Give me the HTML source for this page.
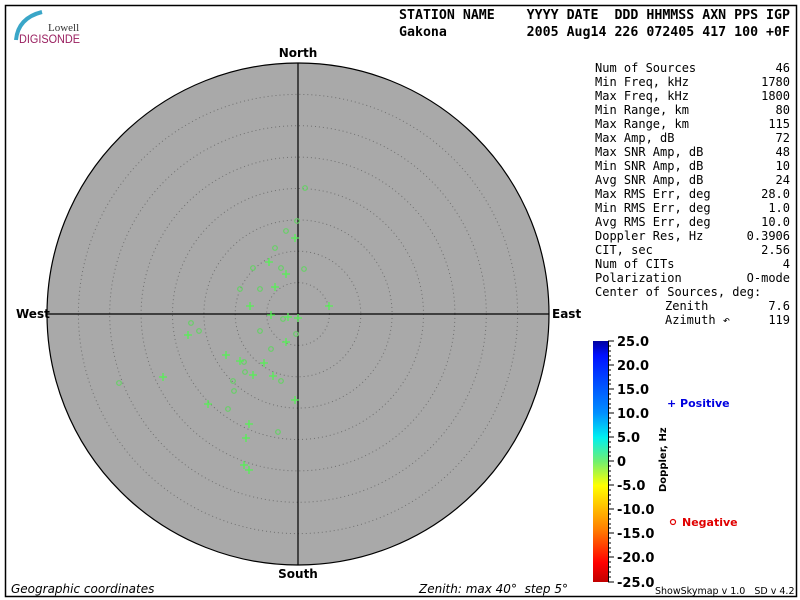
<!DOCTYPE html>
<html><head><meta charset="utf-8"><style>
html,body{margin:0;padding:0;background:#fff;width:800px;height:600px;overflow:hidden}
svg{display:block}
.m{font-family:"DejaVu Sans Mono","Liberation Mono",monospace;font-size:12px;fill:#000}
.h{font-family:"DejaVu Sans Mono","Liberation Mono",monospace;font-size:13px;font-weight:bold;fill:#000}
.b{font-family:"DejaVu Sans","Liberation Sans",sans-serif;font-size:12px;font-weight:bold;fill:#000}
.i{font-family:"DejaVu Sans","Liberation Sans",sans-serif;font-size:12px;font-style:italic;fill:#000}
.c circle{fill:none;stroke:#66d066;stroke-width:1.2}
</style></head><body>
<svg width="800" height="600" viewBox="0 0 800 600">
<defs><linearGradient id="g" x1="0" y1="0" x2="0" y2="1">
<stop offset="0" stop-color="#0000a0"/><stop offset="0.06" stop-color="#0010ff"/>
<stop offset="0.3" stop-color="#0090ff"/><stop offset="0.4" stop-color="#00f0f0"/>
<stop offset="0.5" stop-color="#70f070"/><stop offset="0.6" stop-color="#ffff00"/>
<stop offset="0.78" stop-color="#ff8000"/><stop offset="0.92" stop-color="#ff0000"/>
<stop offset="1" stop-color="#c00000"/></linearGradient></defs>
<rect x="5.5" y="5.5" width="791" height="591" fill="none" stroke="#000" stroke-width="1.5"/>
<path d="M16 40 Q18 18 42 12" fill="none" stroke="#3aa6c8" stroke-width="4"/>
<text x="48" y="31" font-family="Liberation Serif,serif" font-size="11" fill="#333">Lowell</text>
<text x="19" y="43" font-family="Liberation Sans,sans-serif" font-size="12" fill="#9a2060" textLength="61" lengthAdjust="spacingAndGlyphs">DIGISONDE</text>
<text x="399" y="19" class="h" xml:space="preserve" textLength="391" lengthAdjust="spacingAndGlyphs">STATION NAME    YYYY DATE  DDD HHMMSS AXN PPS IGP</text>
<text x="399" y="36" class="h" xml:space="preserve" textLength="391" lengthAdjust="spacingAndGlyphs">Gakona          2005 Aug14 226 072405 417 100 +0F</text>
<circle cx="298" cy="314" r="251" fill="#a9a9a9" stroke="#000" stroke-width="1.2"/>
<g fill="none" stroke="#707070" stroke-dasharray="1 3">
<circle cx="298" cy="314" r="31.4"/><circle cx="298" cy="314" r="62.8"/><circle cx="298" cy="314" r="94.1"/>
<circle cx="298" cy="314" r="125.5"/><circle cx="298" cy="314" r="156.9"/><circle cx="298" cy="314" r="188.3"/>
<circle cx="298" cy="314" r="219.6"/></g>
<line x1="298" y1="63" x2="298" y2="565" stroke="#000" stroke-width="1.2"/>
<line x1="47" y1="314" x2="549" y2="314" stroke="#000" stroke-width="1.2"/>
<text x="298" y="57" class="b" text-anchor="middle">North</text>
<text x="298" y="578" class="b" text-anchor="middle">South</text>
<text x="16" y="318" class="b">West</text>
<text x="552" y="318" class="b">East</text>
<g class="c">
<circle cx="305" cy="188" r="2.3"/><circle cx="297" cy="221" r="2.3"/><circle cx="286" cy="231" r="2.3"/><circle cx="275" cy="248" r="2.3"/><circle cx="253" cy="268" r="2.3"/><circle cx="281" cy="268" r="2.3"/><circle cx="304" cy="269" r="2.3"/><circle cx="240" cy="289" r="2.3"/><circle cx="260" cy="289" r="2.3"/><circle cx="283" cy="319" r="2.3"/><circle cx="191" cy="323" r="2.3"/><circle cx="199" cy="331" r="2.3"/><circle cx="260" cy="331" r="2.3"/><circle cx="296" cy="334" r="2.3"/><circle cx="271" cy="349" r="2.3"/><circle cx="244" cy="362" r="2.3"/><circle cx="245" cy="372" r="2.3"/><circle cx="281" cy="381" r="2.3"/><circle cx="233" cy="381" r="2.3"/><circle cx="234" cy="391" r="2.3"/><circle cx="119" cy="383" r="2.3"/><circle cx="228" cy="409" r="2.3"/><circle cx="278" cy="432" r="2.3"/>
</g>
<g stroke="#55f055" stroke-width="1.3" fill="none">
<path d="M291 238h8M295 234v8 M265 262h8M269 258v8 M282 274h8M286 270v8 M271 287h8M275 283v8 M246 306h8M250 302v8 M325 306h8M329 302v8 M267 315h8M271 311v8 M284 317h8M288 313v8 M294 318h8M298 314v8 M184 335h8M188 331v8 M282 342h8M286 338v8 M222 355h8M226 351v8 M236 361h8M240 357v8 M260 363h8M264 359v8 M249 375h8M253 371v8 M269 376h8M273 372v8 M159 377h8M163 373v8 M291 400h8M295 396v8 M204 404h8M208 400v8 M245 424h8M249 420v8 M242 438h8M246 434v8 M240 465h8M244 461v8 M245 470h8M249 466v8"/>
</g>
<text x="11" y="593" class="i">Geographic coordinates</text>
<text x="419" y="593" class="i" xml:space="preserve">Zenith: max 40°  step 5°</text>
<g class="m" xml:space="preserve">
<text x="595" y="72">Num of Sources</text><text x="790" y="72" text-anchor="end">46</text>
<text x="595" y="86">Min Freq, kHz</text><text x="790" y="86" text-anchor="end">1780</text>
<text x="595" y="100">Max Freq, kHz</text><text x="790" y="100" text-anchor="end">1800</text>
<text x="595" y="114">Min Range, km</text><text x="790" y="114" text-anchor="end">80</text>
<text x="595" y="128">Max Range, km</text><text x="790" y="128" text-anchor="end">115</text>
<text x="595" y="142">Max Amp, dB</text><text x="790" y="142" text-anchor="end">72</text>
<text x="595" y="156">Max SNR Amp, dB</text><text x="790" y="156" text-anchor="end">48</text>
<text x="595" y="170">Min SNR Amp, dB</text><text x="790" y="170" text-anchor="end">10</text>
<text x="595" y="184">Avg SNR Amp, dB</text><text x="790" y="184" text-anchor="end">24</text>
<text x="595" y="198">Max RMS Err, deg</text><text x="790" y="198" text-anchor="end">28.0</text>
<text x="595" y="212">Min RMS Err, deg</text><text x="790" y="212" text-anchor="end">1.0</text>
<text x="595" y="226">Avg RMS Err, deg</text><text x="790" y="226" text-anchor="end">10.0</text>
<text x="595" y="240">Doppler Res, Hz</text><text x="790" y="240" text-anchor="end">0.3906</text>
<text x="595" y="254">CIT, sec</text><text x="790" y="254" text-anchor="end">2.56</text>
<text x="595" y="268">Num of CITs</text><text x="790" y="268" text-anchor="end">4</text>
<text x="595" y="282">Polarization</text><text x="790" y="282" text-anchor="end">O-mode</text>
<text x="595" y="296">Center of Sources, deg:</text>
<text x="665" y="310">Zenith</text><text x="790" y="310" text-anchor="end">7.6</text>
<text x="665" y="324">Azimuth ↶</text><text x="790" y="324" text-anchor="end">119</text>
</g>
<rect x="593" y="341" width="15" height="241" fill="url(#g)"/>
<g stroke="#000" stroke-width="1">
<line x1="608.5" y1="341" x2="608.5" y2="582"/>
<path d="M608 341h6M608 365h6M608 389h6M608 413h6M608 437h6M608 461h6M608 485h6M608 509h6M608 533h6M608 557h6M608 582h6"/>
<path d="M608 346h3M608 351h3M608 356h3M608 360h3M608 370h3M608 375h3M608 380h3M608 384h3M608 394h3M608 399h3M608 404h3M608 408h3M608 418h3M608 423h3M608 428h3M608 432h3M608 442h3M608 447h3M608 452h3M608 456h3M608 466h3M608 471h3M608 476h3M608 480h3M608 490h3M608 495h3M608 500h3M608 504h3M608 514h3M608 519h3M608 524h3M608 528h3M608 538h3M608 543h3M608 548h3M608 552h3M608 562h3M608 567h3M608 572h3M608 577h3"/>
</g>
<g class="b" style="font-size:13px">
<text x="617" y="346">25.0</text><text x="617" y="370">20.0</text><text x="617" y="394">15.0</text>
<text x="617" y="418">10.0</text><text x="617" y="442">5.0</text><text x="617" y="466">0</text>
<text x="617" y="490">-5.0</text><text x="617" y="514">-10.0</text><text x="617" y="538">-15.0</text>
<text x="617" y="562">-20.0</text><text x="617" y="587">-25.0</text>
</g>
<text transform="translate(666,492) rotate(-90)" font-family="DejaVu Sans,sans-serif" font-size="10" font-weight="bold">Doppler, Hz</text>
<text x="667" y="407" font-family="DejaVu Sans,sans-serif" font-size="11" font-weight="bold" fill="#0000e0">+ Positive</text>
<circle cx="673" cy="522" r="2.5" fill="none" stroke="#e00000" stroke-width="1.2"/>
<text x="682" y="526" font-family="DejaVu Sans,sans-serif" font-size="11" font-weight="bold" fill="#e00000">Negative</text>
<text x="655" y="594" font-family="DejaVu Sans,sans-serif" font-size="9.5" xml:space="preserve">ShowSkymap v 1.0   SD v 4.2</text>
</svg>
</body></html>
